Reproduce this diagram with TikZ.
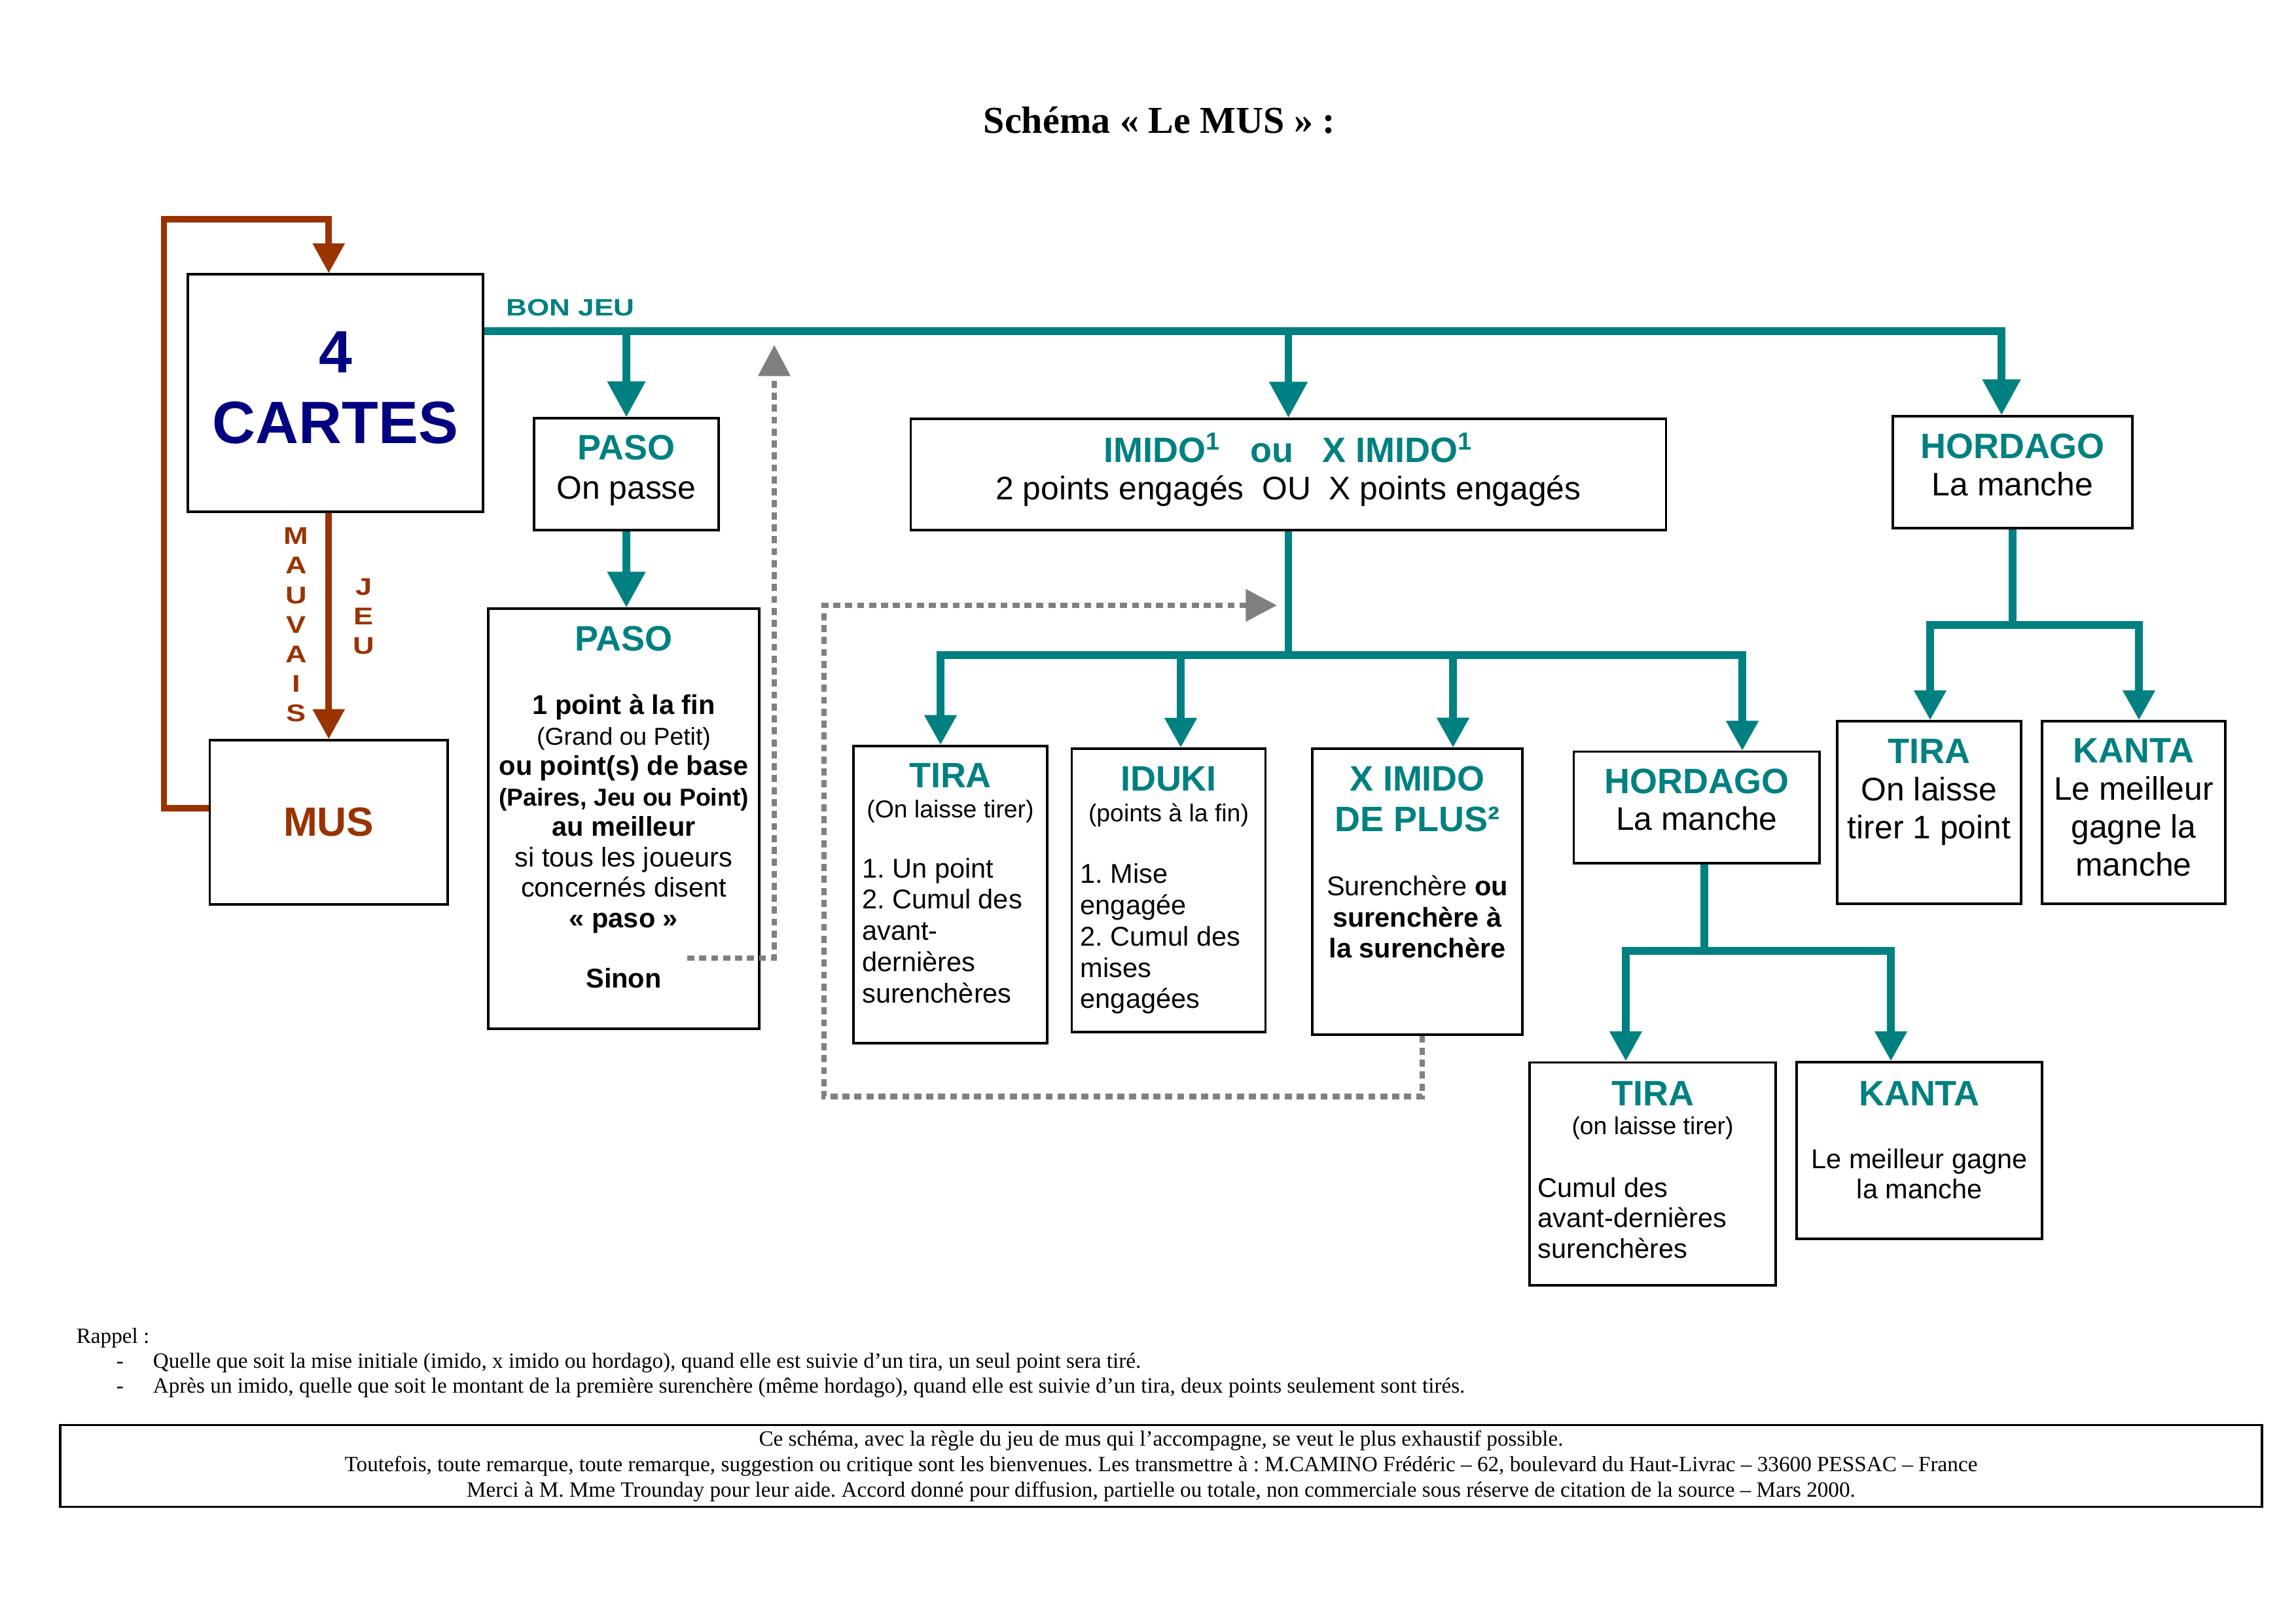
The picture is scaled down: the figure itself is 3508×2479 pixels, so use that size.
\documentclass[tikz,border=0pt]{standalone}
\usepackage{fontspec}
\setmainfont{Liberation Sans}
\newfontfamily\seriffont{Liberation Serif}
\newfontfamily\widefont[FakeStretch=1.22]{Liberation Sans}
\usetikzlibrary{arrows.meta}
\definecolor{musteal}{RGB}{0,128,128}
\definecolor{musbrown}{RGB}{153,51,0}
\definecolor{musnavy}{RGB}{0,0,128}
\definecolor{musgray}{RGB}{128,128,128}
\newcommand\sz[2]{\fontsize{#1}{#2}\selectfont}
\newcommand\tete[1]{{\sz{13}{15}\bfseries\color{musteal}#1}}
\newcommand\padbot[1]{\rule[-#1]{0pt}{#1}}
\frenchspacing
\tikzset{
  box/.style={draw, line width=0.8pt, inner sep=0pt, align=center},
  mixbox/.style={draw, line width=0.8pt, inner sep=0pt, align=flush left},
  bonjeu/.style={draw=musteal, line width=2.7pt, -{Triangle[width=13.5pt,length=13.2pt]}},
  stem/.style={draw=musteal, line width=2.7pt},
  branch/.style={draw=musteal, line width=2.7pt, -{Triangle[width=11.3pt,length=11pt]}},
  mauvais/.style={draw=musbrown, line width=2.35pt, -{Triangle[width=11.3pt,length=11pt]}},
  relance/.style={draw=musgray, line width=2.1pt, dash pattern=on 2.6pt off 1.8pt, -{Triangle[width=11.5pt,length=11.5pt]}},
  vertical/.style={inner sep=0pt, align=center, text=musbrown, font={\widefont\bfseries\sz{8.9}{10.85}}},
  note/.style={anchor=base west, inner sep=0pt, font={\seriffont\sz{8}{9.2}}}
}
\begin{document}
\begin{tikzpicture}[x={(0.0084667cm,0)},y={(0,-0.0084667cm)}]
  \fill[white] (0,0) rectangle (3508,2479);
  \node[anchor=base, inner sep=0pt, font={\seriffont\bfseries\sz{14}{17}}] (titre) at (1771.5,203) {Schéma « Le MUS » :};

  \node[box, minimum width=108.6pt, minimum height=87.4pt, text=musnavy, font={\bfseries\sz{22}{26}}] (cartes) at (512.5,600.5) {4\\CARTES\padbot{4.2pt}};
  \node[box, minimum width=87.6pt, minimum height=60.5pt, text=musbrown, font={\bfseries\sz{15}{18}}] (mus) at (502.25,1256.5) {MUS};
  \node[vertical] (mauvais) at (452.6,954.5) {M\\A\\U\\V\\A\\I\\S};
  \node[vertical] (jeu) at (556,941.5) {J\\E\\U};
  \node[anchor=base west, inner sep=0pt, text=musteal, font={\widefont\bfseries\sz{8.7}{10}}] (bon) at (773,482) {BON JEU};

  \node[box, minimum width=67.9pt, minimum height=41.2pt, font={\sz{12}{14.4}}] (paso1) at (957,724.5) {\tete{PASO}\\On passe\padbot{5.4pt}};
  \node[box, minimum width=99.7pt, minimum height=154.7pt, font={\sz{10}{11.2}}] (paso2) at (953,1251) {\tete{PASO}\\[12.3pt]
    \textbf{1 point à la fin}\\
    {\sz{9}{11}(Grand ou Petit)}\\
    \textbf{ou point(s) de base}\\
    {\sz{9}{11}\bfseries(Paires, Jeu ou Point)}\\
    \textbf{au meilleur}\\
    si tous les joueurs\\
    concernés disent\\
    \textbf{« paso »}\\[11.1pt]
    \textbf{Sinon}\padbot{8.6pt}};
  \node[box, minimum width=278.2pt, minimum height=41pt, font={\sz{12}{13.85}}] (imido) at (1968.5,725) {\tete{IMIDO\textsuperscript{1}\ \ \ ou\ \ \ X IMIDO\textsuperscript{1}}\\2 points engagés\ \ OU\ \ X points engagés\padbot{5.9pt}};
  \node[box, minimum width=88.2pt, minimum height=41.2pt, font={\sz{12}{13.6}}] (hord1) at (3075,721.5) {\tete{HORDAGO}\\La manche\padbot{5.5pt}};

  \node[mixbox, minimum width=71.3pt, minimum height=109.4pt, text width=64.9pt, font={\sz{10}{11.5}}] (tira1) at (1452,1367) {\makebox[\linewidth]{\tete{TIRA}}\\[-0.5pt]
    \makebox[\linewidth]{\sz{9}{11}(On laisse tirer)}\\[10.7pt]
    1. Un point\\
    2. Cumul des\\
    avant-\\
    dernières\\
    surenchères\padbot{8.6pt}};
  \node[mixbox, minimum width=71.3pt, minimum height=104.3pt, text width=64.9pt, font={\sz{10}{11.5}}] (iduki) at (1785.5,1360.5) {\makebox[\linewidth]{\tete{IDUKI}}\\[-0.2pt]
    \makebox[\linewidth]{\sz{9}{11}(points à la fin)}\\[11.2pt]
    1. Mise\\
    engagée\\
    2. Cumul des\\
    mises\\
    engagées};
  \node[box, minimum width=77.3pt, minimum height=105.3pt, font={\sz{10}{11.5}}] (ximido) at (2165.5,1362.5) {\tete{X IMIDO}\\[3.6pt]
    \tete{DE PLUS²}\\[12pt]
    Surenchère \textbf{ou}\\
    \textbf{surenchère à}\\
    \textbf{la surenchère}\padbot{21.8pt}};
  \node[box, minimum width=90.5pt, minimum height=41pt, font={\sz{12}{13.6}}] (hord2) at (2592.25,1233.8) {\tete{HORDAGO}\\La manche\padbot{5.8pt}};
  \node[box, minimum width=67.7pt, minimum height=67.2pt, font={\sz{12}{13.9}}] (tira2) at (2947.5,1241.5) {\tete{TIRA}\\On laisse\\tirer 1 point\padbot{17.5pt}};
  \node[box, minimum width=67.5pt, minimum height=67.2pt, font={\sz{12}{13.9}}] (kanta2) at (3260,1241.5) {\tete{KANTA}\\Le meilleur\\gagne la\\manche\padbot{4pt}};
  \node[mixbox, minimum width=90.6pt, minimum height=82.1pt, text width=84.4pt, font={\sz{10}{11.2}}] (tira3) at (2525,1793.5) {\makebox[\linewidth]{\tete{TIRA}}\\[-0.4pt]
    \makebox[\linewidth]{\sz{9}{11}(on laisse tirer)}\\[11.8pt]
    Cumul des\\
    avant-dernières\\
    surenchères\padbot{3.1pt}};
  \node[box, minimum width=90.3pt, minimum height=65pt, font={\sz{10}{11.1}}] (kanta3) at (2932.5,1758) {\tete{KANTA}\\[12.1pt]
    Le meilleur gagne\\
    la manche\padbot{7.9pt}};

  \coordinate (trunk) at (0,506);
  \coordinate (hordrop) at (3058,506);
  \coordinate (d1) at (1437,1001);
  \coordinate (d2) at (1804,1001);
  \coordinate (d3) at (2220,1001);
  \coordinate (d4) at (2662,1001);
  \coordinate (e1) at (2949,955);
  \coordinate (e2) at (3268,955);
  \coordinate (f0) at (2604,1453);
  \coordinate (f1) at (2484,1453);
  \coordinate (f2) at (2889,1453);
  \coordinate (loop) at (250.5,335);
  \coordinate (sinon) at (1050,1464);
  \coordinate (retour) at (1183,527);
  \coordinate (boucle) at (1259,1675.5);
  \coordinate (tipimido) at (1951,925);

  \draw[mauvais] ([yshift=5.2pt]mus.west) -| (loop) -| (mus.north |- cartes.north);
  \draw[mauvais] (mus.north |- cartes.south) -- (mus.north);

  \draw[bonjeu] (cartes.east |- trunk) -- (hordrop) -- (hordrop |- hord1.north);
  \draw[bonjeu] (paso1.north |- trunk) -- (paso1.north);
  \draw[bonjeu] (imido.north |- trunk) -- (imido.north);
  \draw[bonjeu] (paso1.south) -- (paso1.south |- paso2.north);

  \draw[stem] (imido.south) -- (imido.south |- d1);
  \draw[branch] (d4) -- (d1) -- (d1 |- tira1.north);
  \draw[branch] (d1) -- (d4) -- (d4 |- hord2.north);
  \draw[branch] (d2) -- (d2 |- iduki.north);
  \draw[branch] (d3) -- (d3 |- ximido.north);

  \draw[stem] (hord1.south) -- (hord1.south |- e1);
  \draw[branch] (e2) -- (e1) -- (e1 |- tira2.north);
  \draw[branch] (e1) -- (e2) -- (e2 |- kanta2.north);

  \draw[stem] (f0 |- hord2.south) -- (f0);
  \draw[branch] (f2) -- (f1) -- (f1 |- tira3.north);
  \draw[branch] (f1) -- (f2) -- (f2 |- kanta3.north);

  \draw[relance] (sinon) -| (retour);
  \draw[relance] ([xshift=1.8pt]ximido.south) |- (boucle) |- (tipimido);

  \node[note] (rappel) at (116,2052) {Rappel :};
  \node[note] (tiret1) at (177,2090) {-};
  \node[note] (regle1) at (233,2090) {Quelle que soit la mise initiale (imido, x imido ou hordago), quand elle est suivie d’un tira, un seul point sera tiré.};
  \node[note] (tiret2) at (177,2128) {-};
  \node[note] (regle2) at (233,2128) {Après un imido, quelle que soit le montant de la première surenchère (même hordago), quand elle est suivie d’un tira, deux points seulement sont tirés.};
  \node[draw, line width=0.8pt, inner sep=0pt, minimum width=810.6pt, minimum height=30.1pt, align=center, font={\seriffont\sz{8}{9.4}}] (credit) at (1774,2240) {Ce schéma, avec la règle du jeu de mus qui l’accompagne, se veut le plus exhaustif possible.\\
    Toutefois, toute remarque, toute remarque, suggestion ou critique sont les bienvenues. Les transmettre à : M.CAMINO Frédéric – 62, boulevard du Haut-Livrac – 33600 PESSAC – France\\
    Merci à M. Mme Trounday pour leur aide. Accord donné pour diffusion, partielle ou totale, non commerciale sous réserve de citation de la source – Mars 2000.};
\end{tikzpicture}
\end{document}
